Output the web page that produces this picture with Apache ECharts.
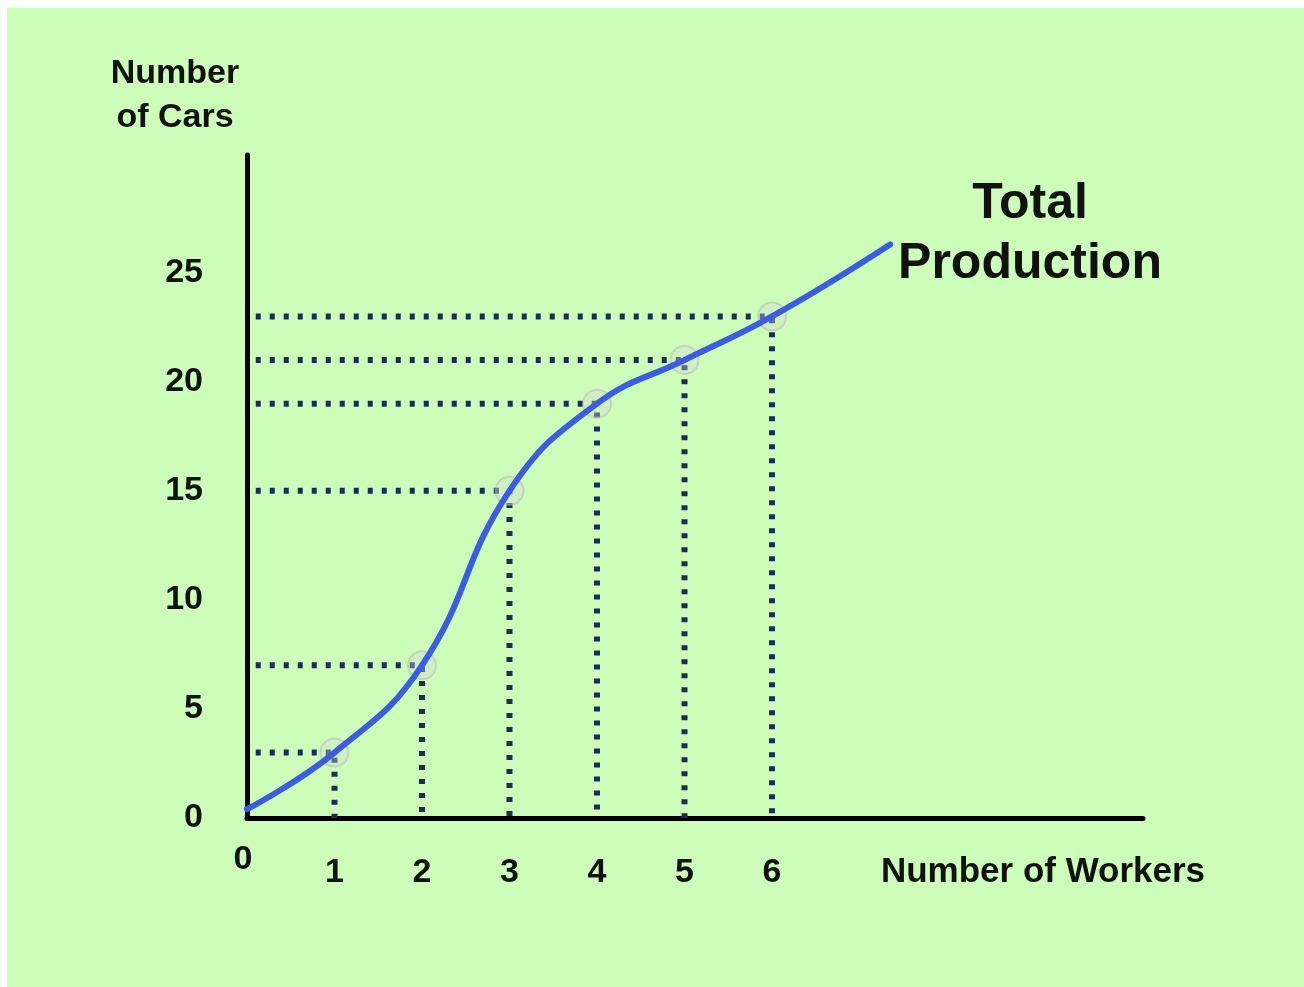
<!DOCTYPE html>
<html>
<head>
<meta charset="utf-8">
<script src="https://cdn.jsdelivr.net/npm/echarts@6/dist/echarts.min.js"></script>
<style>
  html, body { margin: 0; padding: 0; background: #ffffff; }
  #chart { position: absolute; left: 7px; top: 8px; width: 1297px; height: 979px; background: #ccfdb9; }
</style>
</head>
<body>
<div id="chart"></div>
<script>
// ---- data ----
const workers = [1, 2, 3, 4, 5, 6];
const cars = [3, 7, 15, 19, 21, 23];
const curveX = [0, 1, 2, 3, 4, 5, 6, 7.35];
const curveY = [0.4, 3, 7, 15, 19, 21, 23, 26.3];
const yTicks = [0, 5, 10, 15, 20, 25];
const xTicks = [1, 2, 3, 4, 5, 6];

const FONT = '"Liberation Sans", Arial, sans-serif';
const chart = echarts.init(document.getElementById('chart'), null, { renderer: 'canvas' });

const guideSeries = workers.map((w, i) => ({
  type: 'line',
  data: [[0.1, cars[i]], [w, cars[i]], [w, 0]],
  symbol: 'none',
  smooth: false,
  silent: true,
  z: 1,
  lineStyle: { color: '#1b2c58', width: 6, type: [5, 9], cap: 'butt' }
}));

const option = {
  animation: false,
  backgroundColor: 'transparent',
  grid: { left: 240, top: 147, right: 161, bottom: 169, containLabel: false },
  xAxis: {
    type: 'value', min: 0, max: 10.24, interval: 1,
    axisLine: { show: true, lineStyle: { color: '#000', width: 5 } },
    axisTick: { show: false },
    splitLine: { show: false },
    axisLabel: {
      margin: 38, color: '#111', fontFamily: FONT, fontWeight: 'bold', fontSize: 34,
      showMinLabel: true, showMaxLabel: false,
      formatter: v => (xTicks.indexOf(v) >= 0 ? String(v) : '')
    }
  },
  yAxis: {
    type: 'value', min: 0, max: 30.4, interval: 5,
    axisLine: { show: true, lineStyle: { color: '#000', width: 5 } },
    axisTick: { show: false },
    splitLine: { show: false },
    axisLabel: {
      margin: 44, color: '#111', fontFamily: FONT, fontWeight: 'bold', fontSize: 34,
      showMaxLabel: false,
      formatter: v => (yTicks.indexOf(v) >= 0 ? String(v) : '')
    }
  },
  series: guideSeries.concat([
    {
      type: 'scatter',
      data: workers.map((w, i) => [w, cars[i]]),
      symbol: 'circle', symbolSize: 28, silent: true, z: 2,
      itemStyle: { color: 'rgba(215,215,215,0.45)', borderColor: 'rgba(185,185,185,0.7)', borderWidth: 2 }
    },
    {
      type: 'line',
      data: curveX.map((x, i) => [x, curveY[i]]),
      smooth: 0.45, symbol: 'none', silent: true, z: 3,
      lineStyle: { color: '#3b5ce4', width: 6, cap: 'round' }
    }
  ]),
  graphic: [
    { type: 'text', x: 168, y: 44, z: 10,
      style: { text: 'Number\nof Cars', fill: '#111', font: 'bold 34px ' + FONT, textAlign: 'center', textVerticalAlign: 'top', lineHeight: 44 } },
    { type: 'text', x: 1023, y: 166, z: 10,
      style: { text: 'Total\nProduction', fill: '#111', font: 'bold 50px ' + FONT, textAlign: 'center', textVerticalAlign: 'top', lineHeight: 60 } },
    { type: 'text', x: 1036, y: 864, z: 10,
      style: { text: 'Number of Workers', fill: '#111', font: 'bold 35px ' + FONT, textAlign: 'center', textVerticalAlign: 'middle' } },
    { type: 'text', x: 236, y: 852, z: 10,
      style: { text: '0', fill: '#111', font: 'bold 34px ' + FONT, textAlign: 'center', textVerticalAlign: 'middle' } }
  ]
};
chart.setOption(option);
</script>
</body>
</html>
